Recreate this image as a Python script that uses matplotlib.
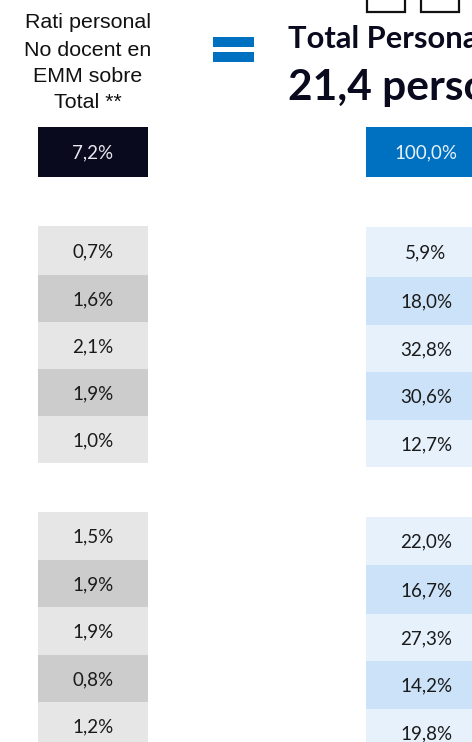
import matplotlib
matplotlib.use('Agg')
import matplotlib.pyplot as plt
from matplotlib.patches import Rectangle

header_left = '7,2%'
header_right = '100,0%'
group1_left = ['0,7%', '1,6%', '2,1%', '1,9%', '1,0%']
group2_left = ['1,5%', '1,9%', '1,9%', '0,8%', '1,2%']
group1_right = ['5,9%', '18,0%', '32,8%', '30,6%', '12,7%']
group2_right = ['22,0%', '16,7%', '27,3%', '14,2%', '19,8%']

left_labels = group1_left + group2_left
right_labels = group1_right + group2_right

# row edges in pixels, the last rows run past the bottom of the picture
left_edges = [(226, 275), (275, 322), (322, 369), (369, 416), (416, 463),
              (512, 560), (560, 607), (607, 655), (655, 702), (702, 750)]
right_edges = [(227, 277), (277, 325), (325, 372), (372, 420), (420, 467),
               (517, 565), (565, 614), (614, 661), (661, 709), (709, 757)]

NAVY = '#0a0a1e'
BLUE = '#0070c0'
GREY1 = '#e6e6e6'
GREY2 = '#cccccc'
LIGHT1 = '#e6f1fb'
LIGHT2 = '#cbe2f8'
CALIBRI = 'Lato'
NUM_SIZE = 13.5

fig = plt.figure(figsize=(4.72, 7.42), dpi=100)
ax = fig.add_axes([0, 0, 1, 1])
ax.set_xlim(0, 472)
ax.set_ylim(742, 0)
ax.axis('off')


def draw_column(x0, x1, edges, labels, color_a, color_b, text_shift):
    for i, (edge, label) in enumerate(zip(edges, labels)):
        color = color_a if i % 5 % 2 == 0 else color_b
        ax.bar((x0 + x1) / 2, edge[1] - edge[0], width=x1 - x0, bottom=edge[0], color=color, linewidth=0)
        ax.text((x0 + x1) / 2, (edge[0] + edge[1]) / 2 + text_shift, label, ha='center', va='center',
                fontsize=NUM_SIZE, family=CALIBRI, color='#1a1a1a')


draw_column(38, 148, left_edges, left_labels, GREY1, GREY2, 1)
draw_column(366, 486, right_edges, right_labels, LIGHT1, LIGHT2, 1)

ax.bar(93, 50, width=110, bottom=127, color=NAVY, linewidth=0)
ax.bar(426, 50, width=120, bottom=127, color=BLUE, linewidth=0)
ax.text(93, 153, header_left, ha='center', va='center', fontsize=NUM_SIZE, family=CALIBRI, color='#e8e8f0')
ax.text(426, 153, header_right, ha='center', va='center', fontsize=NUM_SIZE, family=CALIBRI, color='#e8f2fb')

# equal sign
ax.add_patch(Rectangle((213, 36.7), 41, 10, color=BLUE, lw=0))
ax.add_patch(Rectangle((213, 51.7), 41, 10, color=BLUE, lw=0))

# icons cut by the top edge
for x in (367, 421):
    ax.add_patch(Rectangle((x, -10), 38, 22, fill=False, edgecolor='#111111', lw=1.6))

for y, line in zip((23, 50, 76, 102), ('Rati personal', 'No docent en', 'EMM sobre', 'Total **')):
    ax.text(88, y, line, ha='center', va='center', fontsize=15.4, family='Liberation Sans', color='#111111')

ax.text(288, 39, 'Total Personal', ha='left', va='center', fontsize=22.2, fontweight='bold',
        family=CALIBRI, color=NAVY)
ax.text(288, 88, '21,4 persones', ha='left', va='center', fontsize=30.5, fontweight='bold',
        family=CALIBRI, color=NAVY)

fig.savefig('out.png', dpi=100)
